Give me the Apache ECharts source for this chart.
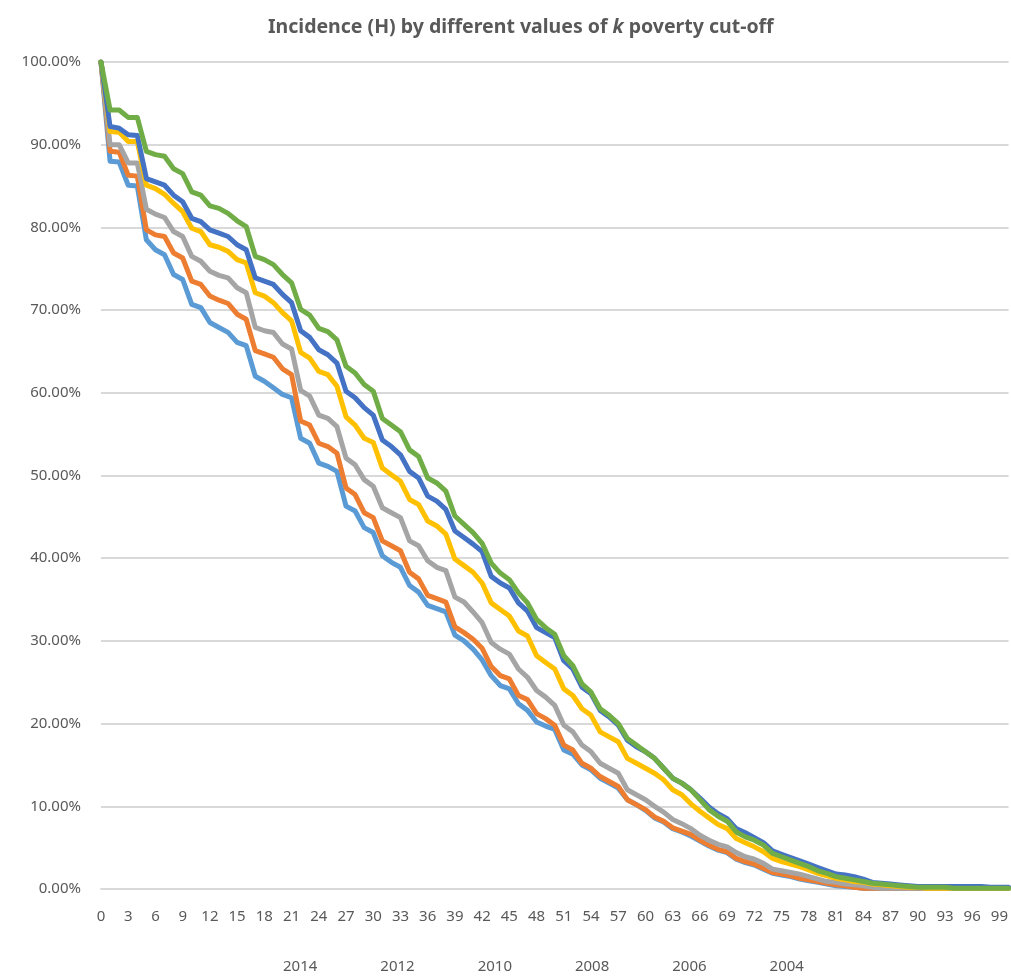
<!DOCTYPE html>
<html>
<head>
<meta charset="utf-8">
<title>Incidence (H) by k</title>
<script src="https://cdn.jsdelivr.net/npm/echarts@6/dist/echarts.min.js"></script>
<style>
  html, body { margin: 0; padding: 0; background: #fff; }
  #chart { width: 1011px; height: 976px; }
</style>
</head>
<body>
<div id="chart"></div>
<script>
// k cut-off values 0..100 (category axis)
const kValues = [];
for (let k = 0; k <= 100; k++) kValues.push(String(k));

const yearNames = ["2014", "2012", "2010", "2008", "2006", "2004"];

// incidence H in %
const h2014 = [100, 92.2, 92.0, 91.2, 91.1, 85.9, 85.5, 85.1, 83.9, 83.1, 81.1, 80.7, 79.7, 79.3, 78.9, 77.9, 77.3, 73.9, 73.5, 73.1,
  71.9, 70.9, 67.5, 66.7, 65.2, 64.6, 63.6, 60.2, 59.4, 58.2, 57.3, 54.3, 53.5, 52.5, 50.5, 49.7, 47.5, 46.9, 45.9, 43.3,
  42.5, 41.7, 40.8, 37.8, 37.0, 36.4, 34.6, 33.6, 31.6, 31.0, 30.4, 27.6, 26.6, 24.4, 23.6, 21.6, 20.8, 19.8, 18.0, 17.2,
  16.6, 15.8, 14.6, 13.4, 12.8, 12.0, 11.0, 9.9, 9.1, 8.5, 7.3, 6.8, 6.2, 5.6, 4.6, 4.2, 3.8, 3.4, 3.0, 2.6,
  2.2, 1.8, 1.7, 1.5, 1.2, 0.8, 0.7, 0.6, 0.5, 0.4, 0.3, 0.3, 0.3, 0.3, 0.3, 0.3, 0.3, 0.3, 0.2, 0.2, 0.2];
const h2012 = [100, 89.2, 89.1, 86.3, 86.2, 79.7, 79.1, 78.9, 76.9, 76.3, 73.5, 73.1, 71.7, 71.2, 70.8, 69.5, 68.9, 65.1, 64.7, 64.3,
  62.9, 62.2, 56.6, 56.1, 53.9, 53.5, 52.7, 48.5, 47.7, 45.5, 44.9, 42.1, 41.5, 40.9, 38.3, 37.5, 35.5, 35.1, 34.7, 31.7,
  31.0, 30.2, 29.1, 26.9, 25.8, 25.4, 23.4, 22.9, 21.2, 20.6, 19.8, 17.4, 16.8, 15.2, 14.6, 13.6, 13.0, 12.4, 10.8, 10.2,
  9.6, 8.7, 8.2, 7.4, 7.0, 6.6, 5.9, 5.3, 4.8, 4.5, 3.7, 3.3, 3.0, 2.5, 2.0, 1.8, 1.6, 1.3, 1.1, 0.9,
  0.7, 0.5, 0.4, 0.2, 0.1, 0.1, 0.1, 0.1, 0.1, 0.1, 0.1, 0.1, 0.1, 0.1, 0.1, 0.1, 0.1, 0.1, 0.1, 0.1, 0.1];
const h2010 = [100, 90.0, 90.0, 87.8, 87.8, 82.2, 81.6, 81.2, 79.5, 78.9, 76.5, 75.9, 74.7, 74.2, 73.9, 72.7, 72.1, 67.9, 67.5, 67.3,
  65.9, 65.3, 60.3, 59.6, 57.3, 56.9, 55.9, 52.1, 51.3, 49.5, 48.7, 46.1, 45.5, 44.9, 42.1, 41.5, 39.7, 38.9, 38.5, 35.3,
  34.7, 33.5, 32.2, 29.8, 29.0, 28.4, 26.6, 25.6, 24.0, 23.2, 22.2, 19.8, 19.0, 17.4, 16.6, 15.2, 14.6, 14.0, 12.0, 11.4,
  10.8, 10.0, 9.3, 8.4, 7.9, 7.3, 6.5, 5.9, 5.4, 5.1, 4.4, 3.9, 3.6, 3.1, 2.4, 2.2, 2.0, 1.8, 1.5, 1.2,
  0.9, 0.8, 0.6, 0.5, 0.4, 0.2, 0.1, 0.1, 0.1, 0.1, 0.1, 0.1, 0.1, 0.1, 0.1, 0.1, 0.1, 0.1, 0.1, 0.1, 0.1];
const h2008 = [100, 91.6, 91.5, 90.4, 90.4, 85.1, 84.7, 84.0, 82.9, 81.9, 79.9, 79.5, 77.9, 77.6, 77.1, 76.1, 75.7, 72.1, 71.7, 70.9,
  69.7, 68.7, 64.9, 64.2, 62.6, 62.2, 60.8, 57.1, 56.1, 54.5, 54.0, 50.9, 50.1, 49.3, 47.1, 46.5, 44.5, 43.9, 42.9, 39.9,
  39.1, 38.3, 37.0, 34.6, 33.8, 33.0, 31.2, 30.6, 28.2, 27.4, 26.6, 24.2, 23.4, 21.8, 21.0, 19.0, 18.4, 17.8, 15.8, 15.2,
  14.6, 14.0, 13.2, 12.0, 11.4, 10.3, 9.4, 8.6, 7.8, 7.3, 6.1, 5.6, 5.1, 4.5, 3.7, 3.3, 3.0, 2.7, 2.3, 1.9,
  1.6, 1.3, 1.1, 0.9, 0.8, 0.6, 0.5, 0.4, 0.3, 0.2, 0.2, 0.1, 0.1, 0.1, 0.1, 0.1, 0.1, 0.1, 0.1, 0.1, 0.1];
const h2006 = [100, 88.0, 87.9, 85.1, 85.0, 78.5, 77.3, 76.7, 74.3, 73.7, 70.7, 70.3, 68.5, 67.9, 67.3, 66.1, 65.7, 62.0, 61.4, 60.6,
  59.8, 59.4, 54.5, 53.9, 51.5, 51.1, 50.5, 46.3, 45.7, 43.7, 43.1, 40.3, 39.5, 38.9, 36.7, 35.9, 34.3, 33.9, 33.5, 30.7,
  30.0, 29.0, 27.7, 25.8, 24.6, 24.2, 22.4, 21.6, 20.2, 19.7, 19.3, 16.8, 16.3, 15.0, 14.4, 13.4, 12.8, 12.2, 10.8, 10.2,
  9.5, 8.6, 8.1, 7.3, 6.9, 6.4, 5.8, 5.2, 4.7, 4.4, 3.6, 3.2, 2.9, 2.4, 1.9, 1.7, 1.5, 1.2, 1.0, 0.8,
  0.6, 0.4, 0.3, 0.2, 0.1, 0.1, 0.1, 0.1, 0.1, 0.1, 0.1, 0.1, 0.1, 0.1, 0.1, 0.1, 0.1, 0.1, 0.1, 0.1, 0.1];
const h2004 = [100, 94.2, 94.2, 93.3, 93.3, 89.2, 88.8, 88.6, 87.1, 86.5, 84.3, 83.9, 82.6, 82.3, 81.7, 80.8, 80.1, 76.5, 76.1, 75.5,
  74.3, 73.3, 70.1, 69.4, 67.8, 67.4, 66.4, 63.2, 62.4, 61.0, 60.2, 56.9, 56.1, 55.3, 53.1, 52.3, 49.7, 49.1, 48.1, 45.1,
  44.1, 43.1, 41.8, 39.4, 38.2, 37.4, 35.8, 34.6, 32.6, 31.6, 30.8, 28.2, 27.0, 24.8, 23.8, 21.8, 21.0, 20.0, 18.2, 17.4,
  16.6, 15.8, 14.6, 13.4, 12.8, 12.0, 10.8, 9.6, 8.8, 8.2, 6.9, 6.3, 5.9, 5.3, 4.3, 3.9, 3.5, 3.1, 2.7, 2.2,
  1.9, 1.5, 1.3, 1.1, 0.9, 0.7, 0.6, 0.5, 0.4, 0.3, 0.2, 0.2, 0.2, 0.2, 0.1, 0.1, 0.1, 0.1, 0.1, 0.1, 0.1];

const seriesData = [h2014, h2012, h2010, h2008, h2006, h2004];
const colors = ["#4472C4", "#ED7D31", "#A5A5A5", "#FFC000", "#5B9BD5", "#70AD47"];
// stacking order seen in the picture (light blue at the bottom, green on top)
const zOrder = [6, 3, 4, 5, 2, 7];

const labelFont = "Noto Sans";
const chart = echarts.init(document.getElementById("chart"));

const option = {
  animation: false,
  title: {
    text: "{b|Incidence (H) by different values of }{i|k}{b| poverty cut-off}",
    left: 263,
    top: 12,
    textStyle: {
      rich: {
        b: { fontFamily: labelFont, fontWeight: "bold", fontSize: 19.5, color: "#595959" },
        i: { fontFamily: labelFont, fontWeight: "bold", fontStyle: "italic", fontSize: 19.5, color: "#595959" }
      }
    }
  },
  legend: {
    data: yearNames,
    left: 272,
    top: 954,
    itemWidth: 0,
    itemHeight: 0,
    itemGap: 57,
    textStyle: { fontFamily: labelFont, fontSize: 15, color: "#595959" }
  },
  grid: {
    left: 101,
    right: -4,
    top: 62,
    bottom: 87,
    containLabel: false
  },
  xAxis: {
    type: "category",
    data: kValues,
    boundaryGap: false,
    axisLine: { lineStyle: { color: "#D9D9D9", width: 2 } },
    axisTick: { show: false },
    axisLabel: {
      interval: 2,
      margin: 20,
      fontFamily: labelFont,
      fontSize: 15,
      color: "#595959"
    }
  },
  yAxis: {
    type: "value",
    min: 0,
    max: 100,
    interval: 10,
    axisLine: { show: false },
    axisTick: { show: false },
    splitLine: { lineStyle: { color: "#D9D9D9", width: 2 } },
    axisLabel: {
      margin: 20,
      fontFamily: labelFont,
      fontSize: 15,
      color: "#595959",
      formatter: v => v.toFixed(2) + "%"
    }
  },
  series: yearNames.map((name, i) => ({
    name,
    type: "line",
    data: seriesData[i],
    symbol: "none",
    z: zOrder[i],
    lineStyle: { color: colors[i], width: 5, join: "round", cap: "round" },
    itemStyle: { color: colors[i] }
  }))
};

chart.setOption(option);
</script>
</body>
</html>
